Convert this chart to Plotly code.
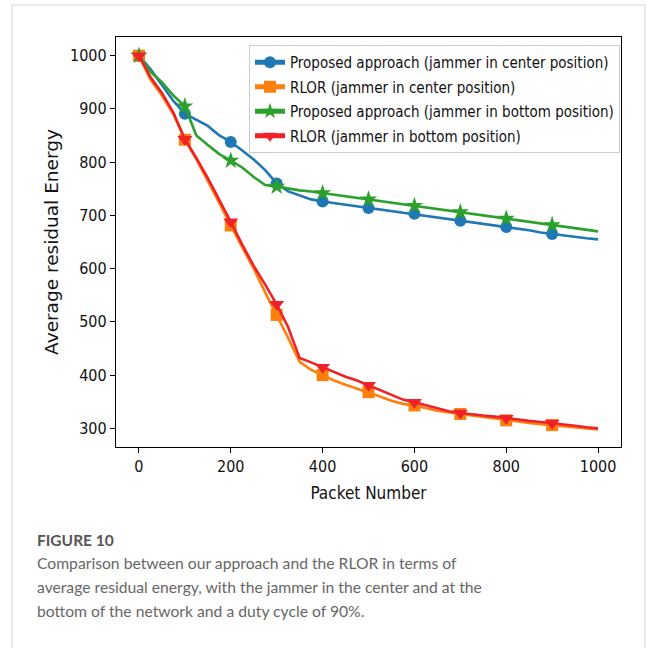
import plotly.graph_objects as go

# ---- data ----
packets = [0, 25, 50, 75, 100, 125, 150, 175, 200, 225, 250, 275, 300, 325, 350, 375,
           400, 425, 450, 475, 500, 525, 550, 575, 600, 625, 650, 675, 700, 725, 750,
           775, 800, 825, 850, 875, 900, 925, 950, 975, 1000]

proposed_center = [1000, 975, 945, 915, 891, 880, 868, 850, 838, 822, 805, 785, 760, 745,
                   737, 730, 726, 723, 720, 717, 714, 711, 708, 706, 703, 700, 696, 693,
                   690, 687, 684, 681, 678, 675, 672, 668, 665, 662, 660, 657, 655]

rlor_center = [1000, 955, 925, 890, 842, 805, 765, 722, 681, 640, 600, 555, 513, 470, 425,
               410, 400, 390, 382, 375, 368, 360, 352, 346, 343, 338, 333, 330, 327, 324,
               321, 318, 315, 312, 310, 308, 306, 304, 302, 300, 298]

proposed_bottom = [1000, 970, 950, 925, 905, 850, 832, 815, 803, 790, 772, 757, 754, 750,
                   747, 745, 742, 739, 736, 733, 730, 727, 724, 721, 718, 715, 712, 709,
                   706, 703, 700, 697, 694, 691, 688, 685, 682, 679, 676, 673, 670]

rlor_bottom = [1000, 960, 930, 893, 843, 808, 770, 730, 688, 645, 605, 570, 533, 490, 432,
               424, 415, 405, 397, 390, 381, 372, 362, 354, 349, 343, 337, 332, 329, 326,
               324, 322, 319, 316, 314, 312, 310, 307, 305, 302, 300]

series_names = [
    "Proposed approach (jammer in center position)",
    "RLOR (jammer in center position)",
    "Proposed approach (jammer in bottom position)",
    "RLOR (jammer in bottom position)",
]
marker_every = 100
x_ticks = [0, 200, 400, 600, 800, 1000]
y_ticks = [300, 400, 500, 600, 700, 800, 900, 1000]

caption_title = "FIGURE 10"
caption_lines = [
    "Comparison between our approach and the RLOR in terms of",
    "average residual energy, with the jammer in the center and at the",
    "bottom of the network and a duty cycle of 90%.",
]

# ---- styling ----
colors = ["#1f77b4", "#ff7f0e", "#2ca02c", "#ee2228"]
symbols = ["circle", "square", "star", "triangle-down"]
msizes = [12, 12, 13, 13]
values = [proposed_center, rlor_center, proposed_bottom, rlor_bottom]

fig = go.Figure()
for i, (name, vals, col, sym, ms) in enumerate(zip(series_names, values, colors, symbols, msizes)):
    sizes = [ms if (p % marker_every == 0 and p < 1000) else 0 for p in packets]
    fig.add_trace(go.Scatter(
        x=packets, y=vals, name=name, mode="lines+markers", legendgroup="g%d" % i,
        line=dict(color=col, width=2.6),
        marker=dict(symbol=sym, size=sizes, color=col, opacity=1, line=dict(width=0)),
    ))

# plot area pixel geometry
W, H = 658, 648
L, R, T, B = 116, 621, 37, 447
pw, ph = R - L, B - T

def px(X):
    return (X - L) / pw

def py(Y):
    return (B - Y) / ph

font_main = "DejaVu Sans Condensed, DejaVu Sans"
axis_common = dict(
    showline=True, mirror=True, linecolor="black", linewidth=1.3,
    ticks="outside", ticklen=5, tickwidth=1.2, tickcolor="black",
    showgrid=False, zeroline=False,
    tickfont=dict(family=font_main, size=16, color="#111"),
)

fig.update_layout(
    width=W, height=H,
    margin=dict(l=L, r=W - R, t=T, b=H - B),
    paper_bgcolor="white", plot_bgcolor="white",
    xaxis=dict(range=[-50, 1050], tickvals=x_ticks,
               title=dict(text="Packet Number", font=dict(family=font_main, size=17, color="#111"), standoff=11),
               **axis_common),
    yaxis=dict(range=[265, 1035], tickvals=y_ticks,
               title=dict(text="Average residual Energy", font=dict(family="DejaVu Sans", size=18.5, color="#111"), standoff=6),
               **axis_common),
    legend=dict(
        x=px(620), y=py(45), xanchor="right", yanchor="top",
        bgcolor="white", bordercolor="#cccccc", borderwidth=1,
        font=dict(family=font_main, size=15, color="#111"),
        itemsizing="constant", tracegroupgap=2,
    ),
    showlegend=True,
)

# outer light frame
fig.add_shape(type="rect", xref="paper", yref="paper",
              x0=px(12), x1=px(645), y0=py(700), y1=py(5),
              line=dict(color="#d4d4d4", width=1), fillcolor="rgba(0,0,0,0)", layer="below")

fig.add_annotation(text="<b>" + caption_title + "</b>", xref="paper", yref="paper",
                   x=px(35), y=py(540), xanchor="left", yanchor="middle", showarrow=False,
                   font=dict(family="Lato", size=15.5, color="#555555"))
for i, line in enumerate(caption_lines):
    fig.add_annotation(text=line, xref="paper", yref="paper",
                       x=px(35), y=py(563 + 24 * i), xanchor="left", yanchor="middle", showarrow=False,
                       font=dict(family="Lato", size=15.7, color="#666666"))

fig.write_html("out.html")
